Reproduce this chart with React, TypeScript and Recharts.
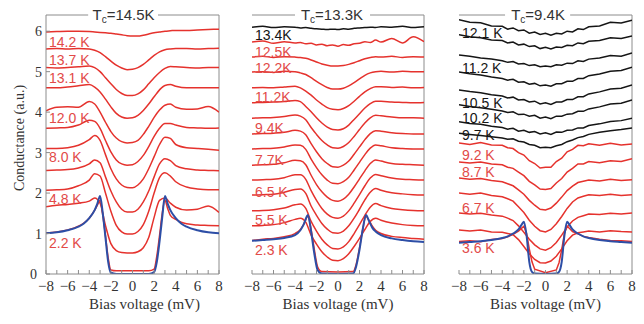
import { LineChart, Line, XAxis, YAxis, ReferenceLine, ReferenceDot } from "recharts";

const bias = [-8, -7, -6, -5, -4, -3.5, -3, -2.5, -2, -1.5, -1, -0.5, 0, 0.5, 1, 1.5, 2, 2.5, 3, 3.5, 4, 5, 6, 7, 8];
const xTicks = [-8, -7, -6, -5, -4, -3, -2, -1, 0, 1, 2, 3, 4, 5, 6, 7, 8];
const xTickLabels = [-8, -6, -4, -2, 0, 2, 4, 6, 8];
const yTicks = [0, 1, 2, 3, 4, 5, 6];

// panel 1, Tc = 14.5 K
const a1 = [5.98, 5.99, 6.0, 6.0, 5.99, 5.98, 5.97, 5.96, 5.95, 5.93, 5.91, 5.89, 5.88, 5.88, 5.9, 5.93, 5.96, 5.98, 6.0, 6.01, 6.02, 6.02, 6.03, 6.04, 6.05];
const a2 = [5.56, 5.57, 5.56, 5.57, 5.56, 5.53, 5.47, 5.37, 5.26, 5.16, 5.09, 5.05, 5.06, 5.1, 5.18, 5.29, 5.4, 5.49, 5.54, 5.56, 5.57, 5.57, 5.56, 5.57, 5.58];
const a3 = [5.1, 5.09, 5.1, 5.12, 5.14, 5.1, 5.0, 4.85, 4.7, 4.56, 4.46, 4.41, 4.41, 4.45, 4.55, 4.7, 4.85, 4.98, 5.08, 5.13, 5.12, 5.1, 5.09, 5.1, 5.1];
const a4 = [4.6, 4.6, 4.62, 4.65, 4.68, 4.62, 4.5, 4.32, 4.13, 3.97, 3.88, 3.85, 3.86, 3.92, 4.04, 4.2, 4.38, 4.55, 4.66, 4.68, 4.64, 4.6, 4.6, 4.6, 4.6];
const a5 = [4.03, 4.12, 4.13, 4.12, 4.26, 4.2, 4.0, 3.75, 3.52, 3.36, 3.27, 3.24, 3.25, 3.3, 3.45, 3.65, 3.87, 4.05, 4.17, 4.2, 4.12, 4.07, 4.08, 4.14, 4.0];
const a6 = [3.6, 3.61, 3.62, 3.68, 3.8, 3.77, 3.6, 3.3, 3.02, 2.82, 2.72, 2.69, 2.7, 2.78, 2.93, 3.15, 3.4, 3.6, 3.72, 3.72, 3.68, 3.62, 3.61, 3.6, 3.61];
const a7 = [3.1, 3.1, 3.12, 3.18, 3.32, 3.42, 3.3, 2.95, 2.6, 2.35, 2.2, 2.14, 2.13, 2.2, 2.35, 2.6, 2.9, 3.2, 3.38, 3.35, 3.2, 3.12, 3.1, 3.08, 3.06];
const a8 = [2.56, 2.57, 2.58, 2.62, 2.72, 2.82, 2.75, 2.4, 2.05, 1.78, 1.6, 1.53, 1.53, 1.6, 1.78, 2.05, 2.4, 2.72, 2.85, 2.8, 2.68, 2.6, 2.57, 2.56, 2.55];
const a9 = [2.07, 2.08, 2.1, 2.18, 2.32, 2.48, 2.42, 2.0, 1.55, 1.2, 1.04, 0.99, 0.99, 1.05, 1.22, 1.55, 2.0, 2.38, 2.5, 2.42, 2.28, 2.15, 2.1, 2.08, 2.08];
const a10 = [1.66, 1.7, 1.72, 1.75, 1.8, 1.88, 1.75, 1.2, 0.75, 0.58, 0.53, 0.52, 0.52, 0.55, 0.65, 0.9, 1.4, 1.82, 1.88, 1.75, 1.65, 1.58, 1.6, 1.68, 1.52];
const aLowBias = [-8, -7, -6, -5, -4.5, -4, -3.5, -3.25, -3, -2.75, -2.5, -2.25, -2, -1.5, 0, 1.5, 2, 2.25, 2.5, 2.75, 3, 3.25, 3.5, 4, 4.5, 5, 6, 7, 8];
const aLow = [1.01, 1.04, 1.09, 1.18, 1.26, 1.38, 1.58, 1.7, 1.82, 1.45, 0.95, 0.4, 0.1, 0.08, 0.08, 0.08, 0.12, 0.45, 0.95, 1.5, 1.82, 1.62, 1.45, 1.35, 1.28, 1.24, 1.21, 1.2, 1.19];
const aFit = [1.01, 1.03, 1.08, 1.17, 1.25, 1.38, 1.58, 1.74, 1.93, 1.5, 0.9, 0.3, 0.03, 0, 0, 0, 0.05, 0.3, 0.8, 1.4, 1.93, 1.74, 1.58, 1.38, 1.25, 1.17, 1.08, 1.03, 1.01];
const aTemps = ["14.2 K", "13.7 K", "13.1 K", "12.0 K", "8.0 K", "4.8 K", "2.2 K"];
const aTempY = [5.74, 5.29, 4.84, 3.85, 2.89, 1.85, 0.77];

// panel 2, Tc = 13.3 K
const b1 = [6.1, 6.12, 6.09, 6.11, 6.1, 6.08, 6.09, 6.07, 6.06, 6.05, 6.04, 6.05, 6.04, 6.06, 6.05, 6.07, 6.08, 6.09, 6.1, 6.09, 6.11, 6.1, 6.12, 6.09, 6.11];
const b2 = [5.73, 5.76, 5.7, 5.74, 5.71, 5.72, 5.69, 5.7, 5.66, 5.68, 5.64, 5.66, 5.63, 5.67, 5.65, 5.69, 5.7, 5.74, 5.72, 5.78, 5.73, 5.82, 5.71, 5.86, 5.74];
const b3 = [5.36, 5.38, 5.35, 5.37, 5.36, 5.35, 5.33, 5.29, 5.24, 5.19, 5.16, 5.14, 5.14, 5.15, 5.18, 5.22, 5.27, 5.32, 5.35, 5.37, 5.36, 5.38, 5.35, 5.37, 5.36];
const b4 = [4.99, 5.0, 4.98, 5.01, 5.0, 4.97, 4.93, 4.85, 4.76, 4.68, 4.61, 4.57, 4.57, 4.59, 4.65, 4.73, 4.82, 4.91, 4.97, 5.0, 5.01, 4.99, 5.01, 5.0, 5.0];
const b5 = [4.6, 4.61, 4.6, 4.62, 4.64, 4.6, 4.52, 4.42, 4.3, 4.2, 4.11, 4.07, 4.06, 4.09, 4.16, 4.27, 4.39, 4.5, 4.58, 4.63, 4.63, 4.61, 4.62, 4.6, 4.61];
const b6 = [4.23, 4.24, 4.25, 4.26, 4.29, 4.26, 4.14, 4.01, 3.86, 3.73, 3.63, 3.57, 3.56, 3.59, 3.68, 3.82, 3.96, 4.1, 4.21, 4.27, 4.27, 4.25, 4.24, 4.23, 4.24];
const b7 = [3.85, 3.86, 3.87, 3.89, 3.93, 3.9, 3.81, 3.62, 3.45, 3.3, 3.19, 3.12, 3.11, 3.15, 3.25, 3.4, 3.57, 3.73, 3.86, 3.92, 3.91, 3.88, 3.86, 3.86, 3.85];
const b8 = [3.46, 3.47, 3.48, 3.5, 3.55, 3.53, 3.44, 3.22, 3.02, 2.85, 2.73, 2.65, 2.64, 2.69, 2.79, 2.96, 3.14, 3.32, 3.47, 3.54, 3.53, 3.49, 3.47, 3.46, 3.46];
const b9 = [3.09, 3.1, 3.11, 3.14, 3.19, 3.18, 3.08, 2.84, 2.63, 2.45, 2.32, 2.24, 2.23, 2.28, 2.39, 2.57, 2.76, 2.95, 3.11, 3.19, 3.17, 3.12, 3.1, 3.09, 3.09];
const b10 = [2.69, 2.7, 2.71, 2.75, 2.81, 2.8, 2.7, 2.44, 2.21, 2.03, 1.9, 1.82, 1.8, 1.85, 1.97, 2.15, 2.35, 2.55, 2.73, 2.82, 2.79, 2.73, 2.71, 2.7, 2.69];
const b11 = [2.32, 2.33, 2.34, 2.38, 2.45, 2.45, 2.34, 2.06, 1.82, 1.62, 1.48, 1.4, 1.38, 1.43, 1.56, 1.75, 1.96, 2.18, 2.37, 2.46, 2.43, 2.37, 2.34, 2.33, 2.32];
const b12 = [1.95, 1.96, 1.97, 2.02, 2.09, 2.1, 1.99, 1.68, 1.45, 1.25, 1.11, 1.02, 1.01, 1.06, 1.19, 1.38, 1.6, 1.83, 2.02, 2.11, 2.07, 2.01, 1.98, 1.96, 1.95];
const b13 = [1.56, 1.57, 1.59, 1.63, 1.71, 1.73, 1.62, 1.3, 1.06, 0.86, 0.72, 0.63, 0.62, 0.67, 0.8, 1.0, 1.22, 1.45, 1.65, 1.74, 1.69, 1.62, 1.59, 1.57, 1.56];
const b14 = [1.19, 1.2, 1.22, 1.27, 1.35, 1.38, 1.28, 0.96, 0.74, 0.55, 0.42, 0.34, 0.33, 0.38, 0.5, 0.68, 0.88, 1.1, 1.3, 1.38, 1.33, 1.26, 1.22, 1.2, 1.19];
const bLowBias = [-8, -7, -6, -5, -4, -3.5, -3.2, -2.8, -2.5, -2.2, -1.9, -1.5, 0, 1.4, 1.7, 2, 2.3, 2.6, 2.9, 3.2, 3.5, 4, 5, 6, 7, 8];
const bLow = [0.83, 0.86, 0.88, 0.92, 1.0, 1.1, 1.22, 1.42, 1.1, 0.6, 0.18, 0.06, 0.05, 0.06, 0.25, 0.65, 1.1, 1.42, 1.32, 1.18, 1.08, 1.0, 0.93, 0.9, 0.88, 0.86];
const bFit = [0.82, 0.84, 0.86, 0.89, 0.96, 1.08, 1.22, 1.46, 1.05, 0.5, 0.1, 0.01, 0, 0.01, 0.2, 0.6, 1.1, 1.46, 1.3, 1.14, 1.05, 0.96, 0.88, 0.84, 0.81, 0.79];
const bTemps = ["13.4K", "12.5K", "12.2K", "11.2K", "9.4K", "7.7K", "6.5 K", "5.5 K", "2.3 K"];
const bTempY = [5.91, 5.49, 5.09, 4.37, 3.61, 2.82, 2.03, 1.33, 0.59];

// panel 3, Tc = 9.4 K
const c1 = [6.28, 6.22, 6.21, 6.13, 6.12, 6.05, 6.08, 6.01, 6.03, 5.95, 5.98, 5.92, 5.95, 5.9, 5.95, 5.93, 6.0, 5.98, 6.06, 6.04, 6.11, 6.13, 6.22, 6.2, 6.27];
const c2 = [5.91, 5.86, 5.84, 5.78, 5.77, 5.71, 5.73, 5.66, 5.68, 5.62, 5.64, 5.57, 5.6, 5.56, 5.61, 5.6, 5.65, 5.64, 5.71, 5.69, 5.75, 5.77, 5.84, 5.82, 5.88];
const c3 = [5.41, 5.38, 5.34, 5.31, 5.27, 5.23, 5.25, 5.19, 5.2, 5.15, 5.17, 5.12, 5.14, 5.12, 5.17, 5.16, 5.21, 5.2, 5.27, 5.25, 5.31, 5.34, 5.4, 5.38, 5.46];
const c4 = [4.99, 4.95, 4.92, 4.87, 4.83, 4.79, 4.81, 4.74, 4.75, 4.69, 4.71, 4.65, 4.67, 4.64, 4.7, 4.7, 4.76, 4.76, 4.83, 4.83, 4.9, 4.94, 5.01, 5.03, 5.11];
const c5 = [4.55, 4.51, 4.48, 4.43, 4.4, 4.35, 4.37, 4.3, 4.31, 4.25, 4.27, 4.2, 4.23, 4.19, 4.25, 4.25, 4.31, 4.31, 4.38, 4.38, 4.45, 4.5, 4.57, 4.59, 4.67];
const c6 = [4.18, 4.14, 4.11, 4.07, 4.03, 3.99, 4.01, 3.94, 3.95, 3.9, 3.92, 3.85, 3.88, 3.84, 3.9, 3.9, 3.95, 3.96, 4.02, 4.02, 4.08, 4.13, 4.2, 4.22, 4.3];
const c7 = [3.76, 3.72, 3.7, 3.65, 3.62, 3.58, 3.6, 3.53, 3.55, 3.5, 3.52, 3.46, 3.49, 3.45, 3.51, 3.5, 3.55, 3.56, 3.61, 3.61, 3.67, 3.71, 3.77, 3.79, 3.85];
const c8 = [3.48, 3.45, 3.42, 3.39, 3.36, 3.33, 3.34, 3.28, 3.26, 3.2, 3.18, 3.12, 3.13, 3.12, 3.17, 3.2, 3.27, 3.31, 3.37, 3.4, 3.45, 3.5, 3.54, 3.57, 3.61];
const c9 = [3.24, 3.2, 3.25, 3.19, 3.18, 3.12, 3.1, 3.0, 2.94, 2.8, 2.73, 2.62, 2.64, 2.64, 2.78, 2.86, 3.02, 3.08, 3.18, 3.17, 3.22, 3.18, 3.23, 3.19, 3.21];
const c10 = [2.77, 2.74, 2.77, 2.72, 2.7, 2.64, 2.61, 2.52, 2.43, 2.29, 2.2, 2.1, 2.09, 2.11, 2.25, 2.36, 2.52, 2.61, 2.72, 2.72, 2.78, 2.75, 2.8, 2.78, 2.85];
const c11 = [2.37, 2.34, 2.36, 2.31, 2.28, 2.23, 2.18, 2.08, 1.97, 1.82, 1.7, 1.6, 1.58, 1.63, 1.75, 1.9, 2.06, 2.17, 2.26, 2.29, 2.32, 2.3, 2.34, 2.31, 2.33];
const c12 = [2.0, 1.97, 2.0, 1.94, 1.91, 1.86, 1.8, 1.66, 1.52, 1.33, 1.18, 1.07, 1.04, 1.1, 1.24, 1.42, 1.62, 1.78, 1.88, 1.92, 1.96, 1.94, 1.97, 1.94, 1.96];
const c13 = [1.51, 1.48, 1.5, 1.46, 1.43, 1.38, 1.32, 1.19, 1.03, 0.86, 0.72, 0.62, 0.59, 0.65, 0.78, 0.96, 1.16, 1.31, 1.4, 1.44, 1.48, 1.47, 1.5, 1.48, 1.51];
const c14 = [1.09, 1.06, 1.09, 1.04, 1.03, 1.0, 0.97, 0.85, 0.68, 0.5, 0.36, 0.28, 0.27, 0.32, 0.44, 0.62, 0.82, 0.96, 1.02, 1.04, 1.06, 1.04, 1.07, 1.05, 1.04];
const cLowBias = [-8, -7, -6, -5, -4, -3.5, -3, -2.5, -2.25, -2, -1.75, -1.5, -1.25, -1, 0, 1, 1.25, 1.5, 1.75, 2, 2.25, 2.5, 3, 3.5, 4, 5, 6, 7, 8];
const cLow = [0.8, 0.82, 0.8, 0.85, 0.88, 0.92, 0.98, 1.06, 1.12, 1.18, 1.0, 0.62, 0.3, 0.12, 0.03, 0.1, 0.28, 0.6, 1.0, 1.18, 1.12, 1.05, 0.99, 0.93, 0.9, 0.86, 0.83, 0.82, 0.8];
const cFit = [0.77, 0.79, 0.81, 0.84, 0.89, 0.93, 1.0, 1.1, 1.2, 1.29, 0.95, 0.3, 0.05, 0.01, 0, 0.01, 0.05, 0.3, 0.95, 1.29, 1.2, 1.1, 1.0, 0.93, 0.89, 0.84, 0.81, 0.79, 0.77];
const cTemps = ["12.1 K", "11.2 K", "10.5 K", "10.2 K", "9.7 K", "9.2 K", "8.7 K", "6.7 K", "3.6 K"];
const cTempY = [5.95, 5.08, 4.22, 3.85, 3.43, 2.94, 2.53, 1.62, 0.64];

const RED = "#e5322d";
const RED_TEXT = "#e24a48";
const BLACK = "#151515";
const BLUE = "#2d4ea6";
const AXIS = "#8c8c8c";
const SERIF = "'Liberation Serif', 'Times New Roman', serif";
const SANS = "'Liberation Sans', Arial, sans-serif";

const fmtX = (v: number) => (xTickLabels.includes(v) ? String(v).replace("-", "\u2212") : "");

// y tick text; the zero is nudged left so it clears the "−8" below it
function YTick(props: any) {
  const { x, y, payload } = props;
  const shift = payload.value === 0 ? 5 : 0;
  return (
    <text x={x - shift} y={y} dy={5} textAnchor="end" fill="#333" fontSize={14} fontFamily={SERIF}>
      {payload.value}
    </text>
  );
}

function TcTitle(props: any) {
  const vb = props.viewBox || { x: 0, y: 0, width: 0, height: 0 };
  const x = vb.x + vb.width / 2;
  const y = vb.y + vb.height / 2;
  return (
    <text x={x} y={y + 5} textAnchor="middle" fill="#333" fontSize={15} fontFamily={SANS}>
      T<tspan fontSize={10} dy={3}>c</tspan>
      <tspan dy={-3}>={props.tc}</tspan>
    </text>
  );
}

function Panel(props: any) {
  const { left, width, mLeft, mRight, axisW, showY, curves, colors, lowX, low, fit, temps, tempY, nBlack, tc, titleX, gapL, gapR, xLabelDx, curveType } = props;
  const rows = bias.map((v, i) => {
    const r: any = { v };
    curves.forEach((c: number[], k: number) => (r["c" + k] = c[i]));
    return r;
  });
  const lowRows = lowX.map((v: number, i: number) => ({ v, red: low[i], fit: fit[i] }));
  return (
    <div style={{ position: "absolute", left, top: 0 }}>
      <LineChart width={width} height={324} data={rows} margin={{ top: 15, right: mRight, bottom: 0, left: mLeft }}>
        <XAxis
          dataKey="v"
          type="number"
          domain={[-8, 8]}
          ticks={xTicks}
          interval={0}
          tickFormatter={fmtX}
          tickSize={-4}
          tickMargin={10}
          height={50}
          stroke={AXIS}
          allowDataOverflow
          tick={{ fill: "#333", fontSize: 15, fontFamily: SERIF }}
          label={{ value: "Bias voltage (mV)", position: "insideBottom", offset: 15, dx: xLabelDx, fill: "#333", fontSize: 15, fontFamily: SERIF }}
        />
        <YAxis
          type="number"
          domain={[0, 6.4]}
          ticks={yTicks}
          width={axisW}
          stroke={AXIS}
          allowDataOverflow
          tickSize={showY ? -4 : 0}
          tickLine={showY}
          tickMargin={8}
          tick={showY ? <YTick /> : false}
        />
        <ReferenceLine x={8} stroke={AXIS} />
        <ReferenceLine segment={[{ x: -8, y: 6.4 }, { x: gapL, y: 6.4 }]} stroke={AXIS} />
        <ReferenceLine segment={[{ x: gapR, y: 6.4 }, { x: 8, y: 6.4 }]} stroke={AXIS} />
        {curves.map((_: number[], k: number) => (
          <Line key={k} type={curveType} dataKey={"c" + k} stroke={colors[k]} strokeWidth={1.5} dot={false} activeDot={false} isAnimationActive={false} />
        ))}
        <Line data={lowRows} type={curveType} dataKey="red" stroke={RED} strokeWidth={1.5} dot={false} activeDot={false} isAnimationActive={false} />
        <Line data={lowRows} type="monotone" dataKey="fit" stroke={BLUE} strokeWidth={2} dot={false} activeDot={false} isAnimationActive={false} />
        {temps.map((t: string, i: number) => (
          <ReferenceDot
            key={t + i}
            x={-8}
            y={tempY[i]}
            r={0}
            fill="none"
            stroke="none"
            label={{ value: t, position: "right", offset: 3, fill: i < nBlack ? BLACK : RED_TEXT, fontSize: 14, fontFamily: SANS }}
          />
        ))}
        <ReferenceDot x={titleX} y={6.4} r={0} fill="none" stroke="none" label={<TcTitle tc={tc} />} />
      </LineChart>
    </div>
  );
}

export default function App() {
  return (
    <div style={{ position: "absolute", left: 0, top: 0, width: 644, height: 324, background: "#fff" }}>
      <Panel
        left={0}
        width={230}
        mLeft={0}
        mRight={11}
        axisW={46}
        showY
        curves={[a1, a2, a3, a4, a5, a6, a7, a8, a9, a10]}
        colors={Array(10).fill(RED)}
        lowX={aLowBias}
        low={aLow}
        fit={aFit}
        temps={aTemps}
        tempY={aTempY}
        nBlack={0}
        tc="14.5K"
        titleX={-0.83}
        gapL={-4.1}
        gapR={2.36}
        xLabelDx={12}
        curveType="monotone"
      />
      <Panel
        left={240}
        width={194}
        mLeft={12}
        mRight={10}
        axisW={0}
        showY={false}
        curves={[b1, b2, b3, b4, b5, b6, b7, b8, b9, b10, b11, b12, b13, b14]}
        colors={[BLACK, ...Array(13).fill(RED)]}
        lowX={bLowBias}
        low={bLow}
        fit={bFit}
        temps={bTemps}
        tempY={bTempY}
        nBlack={1}
        tc="13.3K"
        titleX={-0.56}
        gapL={-4.0}
        gapR={2.98}
        xLabelDx={0}
        curveType="monotone"
      />
      <Panel
        left={445}
        width={199}
        mLeft={14}
        mRight={12}
        axisW={0}
        showY={false}
        curves={[c1, c2, c3, c4, c5, c6, c7, c8, c9, c10, c11, c12, c13, c14]}
        colors={[...Array(8).fill(BLACK), ...Array(6).fill(RED)]}
        lowX={cLowBias}
        low={cLow}
        fit={cFit}
        temps={cTemps}
        tempY={cTempY}
        nBlack={5}
        tc="9.4K"
        titleX={-0.69}
        gapL={-3.74}
        gapR={2.28}
        xLabelDx={0}
        curveType="linear"
      />
      <div
        style={{
          position: "absolute",
          left: 20,
          top: 138,
          transform: "translate(-50%, -50%) rotate(-90deg)",
          whiteSpace: "nowrap",
          fontFamily: SERIF,
          fontSize: 14,
          color: "#333",
        }}
      >
        Conductance (a.u.)
      </div>
    </div>
  );
}
